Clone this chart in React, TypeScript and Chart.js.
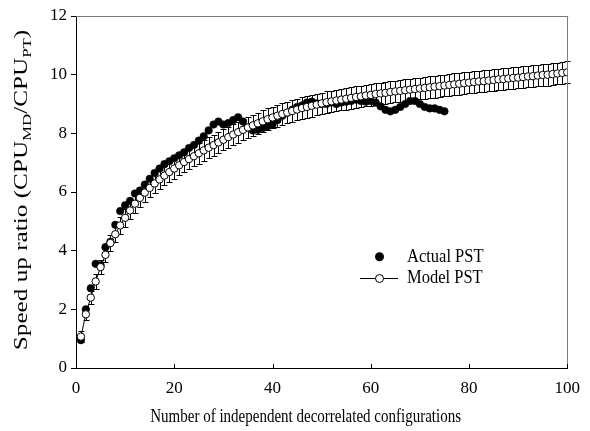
import React, { useEffect, useRef } from "react";
import { Chart, registerables } from "chart.js";

Chart.register(...registerables);

// ---- data ----
const xTickValues = [0, 20, 40, 60, 80, 100];
const yTickValues = [0, 2, 4, 6, 8, 10, 12];

// Actual PST, configurations 1..75
const actualPST = [
  0.95, 2.0, 2.72, 3.55, 3.5, 4.12, 4.3, 4.88, 5.35, 5.55,
  5.7, 5.95, 6.05, 6.25, 6.45, 6.65, 6.8, 6.95, 7.05, 7.15,
  7.25, 7.35, 7.5, 7.6, 7.75, 7.9, 8.1, 8.3, 8.4, 8.3,
  8.35, 8.45, 8.55, 8.4, 8.2, 8.1, 8.12, 8.18, 8.24, 8.3,
  8.45, 8.6, 8.7, 8.8, 8.9, 8.95, 9.05, 9.08, 9.02, 9.0,
  9.0, 9.05, 9.0, 9.05, 9.08, 9.1, 9.15, 9.1, 9.08, 9.1,
  9.05, 8.92, 8.8, 8.75, 8.8, 8.9, 9.0, 9.1, 9.1, 9.0,
  8.9, 8.85, 8.85, 8.8, 8.75,
];

// Model PST, configurations 1..100
const modelPST = [
  1.07, 1.83, 2.4, 2.95, 3.44, 3.86, 4.26, 4.56, 4.86, 5.12,
  5.37, 5.6, 5.8, 5.98, 6.14, 6.29, 6.43, 6.56, 6.68, 6.8,
  6.91, 7.02, 7.12, 7.22, 7.32, 7.42, 7.51, 7.6, 7.69, 7.78,
  7.87, 7.96, 8.04, 8.12, 8.2, 8.27, 8.34, 8.41, 8.48, 8.54,
  8.6, 8.66, 8.71, 8.76, 8.81, 8.86, 8.9, 8.94, 8.98, 9.02,
  9.06, 9.09, 9.12, 9.15, 9.18, 9.21, 9.24, 9.26, 9.29, 9.31,
  9.34, 9.36, 9.38, 9.41, 9.43, 9.45, 9.47, 9.49, 9.51, 9.53,
  9.55, 9.57, 9.59, 9.61, 9.63, 9.65, 9.67, 9.69, 9.71, 9.73,
  9.75, 9.77, 9.78, 9.8, 9.82, 9.84, 9.85, 9.87, 9.89, 9.9,
  9.92, 9.94, 9.95, 9.97, 9.99, 10.0, 10.02, 10.04, 10.06, 10.08,
];

// Model PST error (±), configurations 1..100
const modelErr = [
  0.2, 0.2, 0.22, 0.24, 0.25, 0.26, 0.27, 0.28, 0.29, 0.3,
  0.3, 0.31, 0.31, 0.32, 0.32, 0.33, 0.33, 0.33, 0.34, 0.34,
  0.34, 0.34, 0.35, 0.35, 0.35, 0.35, 0.35, 0.36, 0.36, 0.36,
  0.36, 0.36, 0.36, 0.36, 0.37, 0.37, 0.37, 0.37, 0.37, 0.37,
  0.37, 0.37, 0.37, 0.37, 0.37, 0.37, 0.37, 0.37, 0.37, 0.37,
  0.37, 0.37, 0.37, 0.37, 0.37, 0.37, 0.37, 0.37, 0.37, 0.37,
  0.37, 0.37, 0.37, 0.37, 0.37, 0.37, 0.37, 0.37, 0.37, 0.37,
  0.37, 0.37, 0.37, 0.37, 0.37, 0.37, 0.37, 0.37, 0.37, 0.37,
  0.37, 0.37, 0.37, 0.37, 0.37, 0.37, 0.37, 0.37, 0.37, 0.37,
  0.37, 0.37, 0.37, 0.37, 0.37, 0.37, 0.37, 0.37, 0.37, 0.37,
];

const seriesNames = ["Model PST", "Actual PST"];
const xTitle = "Number of independent decorrelated configurations";
const yTitleParts = [
  { t: "Speed up ratio (CPU", sub: false },
  { t: "MD", sub: true },
  { t: "/CPU", sub: false },
  { t: "PT", sub: true },
  { t: ")", sub: false },
];

const SERIF = "'Liberation Serif', 'Times New Roman', serif";

const decorPlugin = {
  id: "decor",
  beforeDatasetDraw(chart: any, args: any) {
    if (args.index !== 0) return;
    const meta = chart.getDatasetMeta(0);
    const ys = chart.scales.y;
    const ctx = chart.ctx as CanvasRenderingContext2D;
    ctx.save();
    ctx.strokeStyle = "#000";
    ctx.lineWidth = 1;
    meta.data.forEach((pt: any, i: number) => {
      const v = modelPST[i];
      const e = modelErr[i];
      const x = Math.round(pt.x) + 0.5;
      const yt = Math.round(ys.getPixelForValue(v + e)) + 0.5;
      const yb = Math.round(ys.getPixelForValue(v - e)) + 0.5;
      ctx.beginPath();
      ctx.moveTo(x, yt);
      ctx.lineTo(x, yb);
      ctx.moveTo(x - 3, yt);
      ctx.lineTo(x + 3, yt);
      ctx.moveTo(x - 3, yb);
      ctx.lineTo(x + 3, yb);
      ctx.stroke();
    });
    ctx.restore();
  },
  afterDraw(chart: any) {
    const ctx = chart.ctx as CanvasRenderingContext2D;
    const { left, right, top, bottom } = chart.chartArea;
    const xs = chart.scales.x;
    ctx.save();
    // top and right frame lines
    ctx.strokeStyle = "#7a7a7a";
    ctx.lineWidth = 1;
    ctx.beginPath();
    ctx.moveTo(left, Math.round(top) + 0.5);
    ctx.lineTo(right + 1, Math.round(top) + 0.5);
    ctx.moveTo(Math.round(right) + 0.5, top);
    ctx.lineTo(Math.round(right) + 0.5, bottom);
    ctx.stroke();
    // inward x ticks
    ctx.strokeStyle = "#000";
    ctx.beginPath();
    xTickValues.forEach((v) => {
      const px = Math.round(xs.getPixelForValue(v)) + 0.5;
      ctx.moveTo(px, bottom);
      ctx.lineTo(px, bottom - 4);
    });
    ctx.stroke();

    ctx.fillStyle = "#000";
    // x title
    ctx.save();
    ctx.translate((left + right) / 2 - 16, 422);
    ctx.scale(1, 1.3);
    ctx.font = `15px ${SERIF}`;
    ctx.textAlign = "center";
    ctx.textBaseline = "alphabetic";
    ctx.fillText(xTitle, 0, 0);
    ctx.restore();

    // y title with subscripts
    ctx.save();
    ctx.translate(27, 190);
    ctx.rotate(-Math.PI / 2);
    ctx.scale(1.4, 1);
    ctx.textAlign = "left";
    ctx.textBaseline = "alphabetic";
    let total = 0;
    const widths = yTitleParts.map((p) => {
      ctx.font = p.sub ? `12px ${SERIF}` : `18px ${SERIF}`;
      const w = ctx.measureText(p.t).width;
      total += w;
      return w;
    });
    let cx = -total / 2;
    yTitleParts.forEach((p, i) => {
      ctx.font = p.sub ? `12px ${SERIF}` : `18px ${SERIF}`;
      ctx.fillText(p.t, cx, p.sub ? 4 : 0);
      cx += widths[i];
    });
    ctx.restore();

    // legend
    const lx = 379.5;
    const ly1 = 256.7;
    const ly2 = 278.3;
    ctx.beginPath();
    ctx.arc(lx, ly1, 4.5, 0, Math.PI * 2);
    ctx.fill();
    ctx.beginPath();
    ctx.moveTo(360, Math.round(ly2) + 0.5);
    ctx.lineTo(398, Math.round(ly2) + 0.5);
    ctx.stroke();
    ctx.beginPath();
    ctx.arc(lx, Math.round(ly2) + 0.5, 4, 0, Math.PI * 2);
    ctx.fillStyle = "#fff";
    ctx.fill();
    ctx.stroke();
    ctx.fillStyle = "#000";
    ctx.font = `16.5px ${SERIF}`;
    ctx.textAlign = "left";
    ctx.textBaseline = "middle";
    ctx.save();
    ctx.translate(407, ly1);
    ctx.scale(1, 1.2);
    ctx.fillText(seriesNames[1], 0, 0);
    ctx.restore();
    ctx.save();
    ctx.translate(407, ly2);
    ctx.scale(1, 1.2);
    ctx.fillText(seriesNames[0], 0, 0);
    ctx.restore();

    ctx.restore();
  },
};

export default function App() {
  const canvasRef = useRef<HTMLCanvasElement | null>(null);

  useEffect(() => {
    const canvas = canvasRef.current;
    if (!canvas) return;
    const modelData = modelPST.map((v, i) => ({ x: i + 1, y: v }));
    const actualData = actualPST.map((v, i) => ({ x: i + 1, y: v }));
    const chart = new Chart(canvas, {
      type: "scatter",
      data: {
        datasets: [
          {
            label: seriesNames[0],
            data: modelData,
            showLine: true,
            borderColor: "#000",
            borderWidth: 1,
            pointRadius: 3.7,
            pointBorderWidth: 1,
            pointBackgroundColor: "#fff",
            pointBorderColor: "#000",
          },
          {
            label: seriesNames[1],
            data: actualData,
            showLine: false,
            pointRadius: 3.8,
            pointBorderWidth: 0.5,
            pointBackgroundColor: "#000",
            pointBorderColor: "#000",
          },
        ],
      },
      options: {
        animation: false,
        responsive: true,
        maintainAspectRatio: false,
        layout: { padding: { top: 16, right: 21, bottom: 0, left: 0 } },
        plugins: {
          legend: { display: false },
          tooltip: { enabled: false },
          title: { display: false },
        },
        scales: {
          x: {
            type: "linear",
            min: 0,
            max: 100,
            afterFit: (s: any) => {
              s.height = 63;
            },
            afterBuildTicks: (s: any) => {
              s.ticks = xTickValues.map((v) => ({ value: v }));
            },
            ticks: {
              color: "#000",
              font: { family: SERIF, size: 17 },
              padding: 10,
              maxRotation: 0,
            },
            grid: { drawOnChartArea: false, drawTicks: false, color: "#000" },
            border: { color: "#000", width: 1 },
          },
          y: {
            type: "linear",
            min: 0,
            max: 12,
            afterFit: (s: any) => {
              s.width = 76;
            },
            afterBuildTicks: (s: any) => {
              s.ticks = yTickValues.map((v) => ({ value: v }));
            },
            ticks: {
              color: "#000",
              font: { family: SERIF, size: 17 },
              padding: 4,
            },
            grid: { drawOnChartArea: false, drawTicks: true, tickLength: 5, color: "#000" },
            border: { color: "#000", width: 1 },
          },
        },
      },
      plugins: [decorPlugin],
    });
    return () => chart.destroy();
  }, []);

  return (
    <div style={{ position: "fixed", left: 0, top: 0, width: 590, height: 431, background: "#fff" }}>
      <canvas ref={canvasRef} />
    </div>
  );
}
